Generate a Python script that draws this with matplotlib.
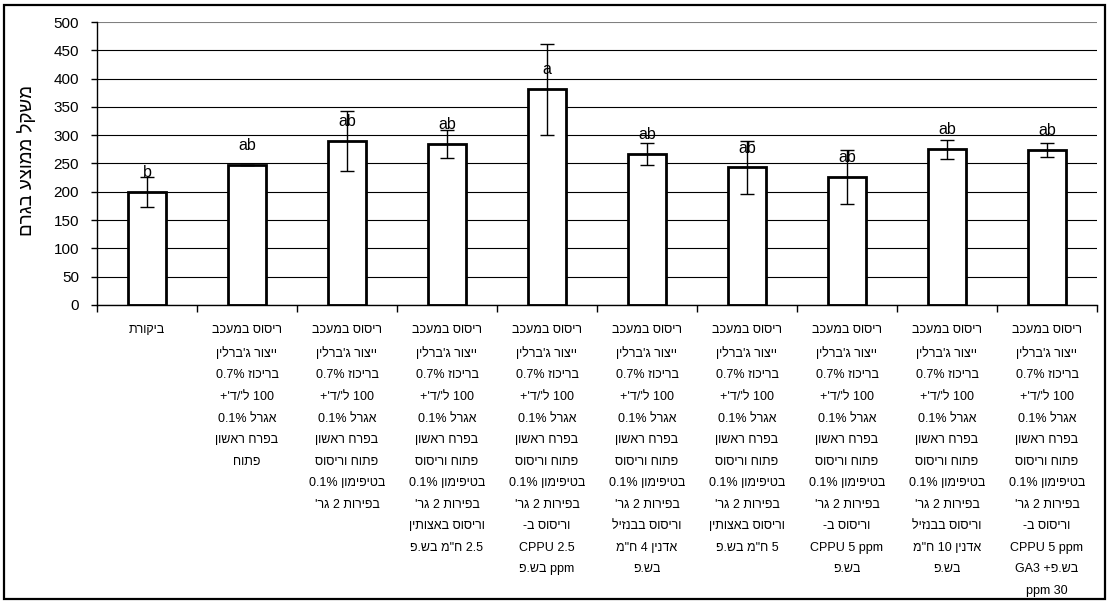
import re
import matplotlib
matplotlib.use("Agg")
import matplotlib.pyplot as plt
from matplotlib.patches import Rectangle

plt.rcParams['font.family'] = ['Liberation Sans', 'DejaVu Sans']

# ---- data ----
base = ["ריסוס במעכב", "ייצור ג'ברלין", "בריכוז 0.7%", "100 ל'/ד'+", "אגרל 0.1%", "בפרח ראשון"]
extra = ["פתוח וריסוס", "בטיפימון 0.1%", "בפירות 2 גר'"]
categories = [
    ["ביקורת"],
    base + ["פתוח"],
    base + extra,
    base + extra + ["וריסוס באצותין", "2.5 ח\"מ בש.פ"],
    base + extra + ["וריסוס ב-", "CPPU 2.5", "ppm בש.פ"],
    base + extra + ["וריסוס בבנזיל", "אדנין 4 ח\"מ", "בש.פ"],
    base + extra + ["וריסוס באצותין", "5 ח\"מ בש.פ"],
    base + extra + ["וריסוס ב-", "CPPU 5 ppm", "בש.פ"],
    base + extra + ["וריסוס בבנזיל", "אדנין 10 ח\"מ", "בש.פ"],
    base + extra + ["וריסוס ב-", "CPPU 5 ppm", "בש.פ+ GA3", "ppm 30"],
]
means = [200, 247, 290, 284, 381, 267, 243, 226, 275, 274]
errors = [27, 0, 53, 25, 80, 20, 47, 48, 17, 13]
letters = ["b", "ab", "ab", "ab", "a", "ab", "ab", "ab", "ab", "ab"]
ylabel = "משקל ממוצע בגרם"
yticks = [0, 50, 100, 150, 200, 250, 300, 350, 400, 450, 500]


def vis(s):
    """Simplified RTL bidi: reverse order, keep LTR runs intact."""
    parts = re.split(r'([A-Za-z0-9][A-Za-z0-9.%]*(?: [A-Za-z0-9][A-Za-z0-9.%]*)*)', s)
    out = [p if i % 2 == 1 else p[::-1] for i, p in enumerate(parts)]
    return ''.join(reversed(out))


W, H = 1110, 603
fig = plt.figure(figsize=(W / 100, H / 100), dpi=100)
fig.patches.append(Rectangle((4 / W, 4 / H), 1 - 9 / W, 1 - 9 / H, transform=fig.transFigure,
                             fill=False, edgecolor='black', linewidth=1.6))

ax = fig.add_axes([97 / W, 1 - 305 / H, 1000 / W, 283 / H])
x = list(range(len(means)))

for t in yticks:
    ax.axhline(t, color='#808080' if t == 500 else 'black', lw=0.8, zorder=0)

ax.bar(x, means, width=0.38, color='white', edgecolor='black', linewidth=2.0, zorder=2)
ax.errorbar(x, means, yerr=errors, fmt='none', ecolor='black', elinewidth=1.0,
            capsize=5, capthick=1.0, zorder=3)
for xi, m, l in zip(x, means, letters):
    ax.annotate(l, (xi, m), xytext=(0, 14), textcoords='offset points',
                ha='center', va='center', fontsize=11.5, zorder=4)

ax.set_xlim(-0.5, len(means) - 0.5)
ax.set_ylim(0, 500)
ax.set_yticks(yticks)
ax.set_yticklabels([str(t) for t in yticks], fontsize=11)
ax.tick_params(axis='y', length=4, width=1, pad=9)

ax.set_xticks(x)
ax.set_xticklabels(['\n'.join(vis(line) for line in c) for c in categories],
                   fontsize=9, linespacing=2.06, va='top')
ax.tick_params(axis='x', which='major', length=0, pad=14)
ax.set_xticks([i + 0.5 for i in range(-1, len(means))], minor=True)
ax.tick_params(axis='x', which='minor', length=5, width=1)

for side in ['top', 'right']:
    ax.spines[side].set_visible(False)
ax.spines['left'].set_linewidth(1)
ax.spines['bottom'].set_linewidth(1)

fig.text(27 / W, 1 - 160 / H, vis(ylabel), rotation=90, ha='center', va='center', fontsize=13.5)

fig.savefig('out.png', dpi=100)
